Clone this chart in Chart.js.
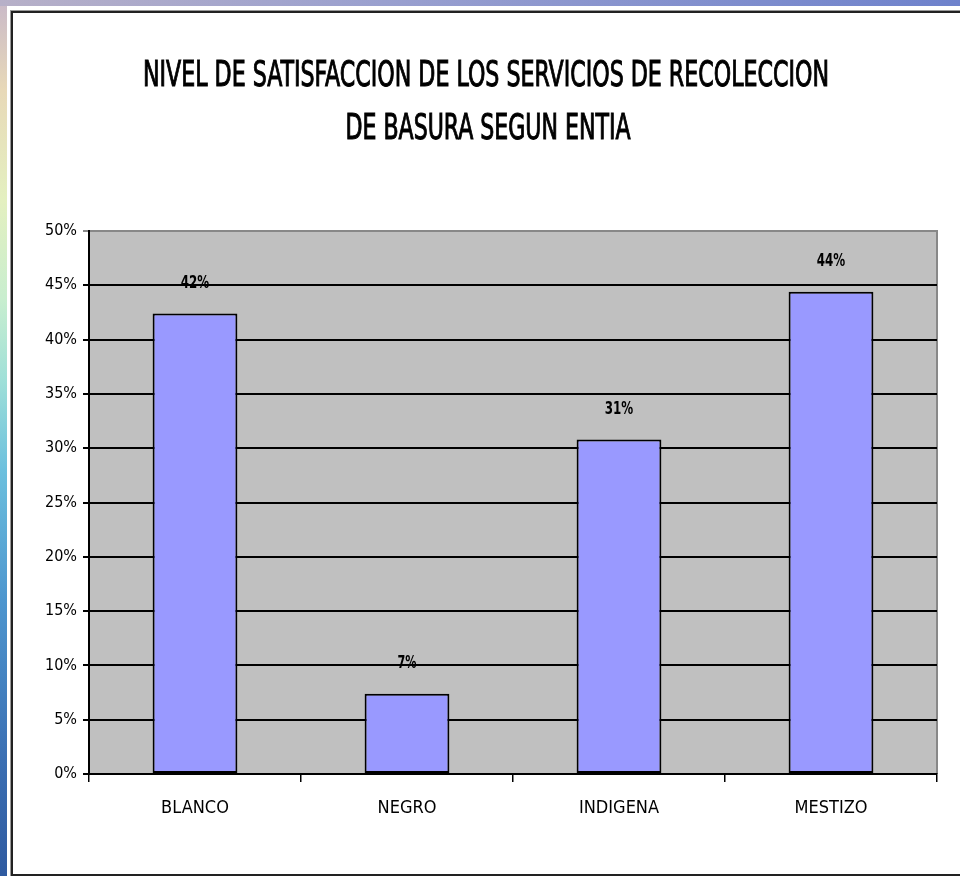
<!DOCTYPE html>
<html>
<head>
<meta charset="utf-8">
<script src="https://cdn.jsdelivr.net/npm/chart.js@4/dist/chart.umd.min.js"></script>
<style>
  html, body { margin: 0; padding: 0; }
  body {
    width: 960px; height: 876px; overflow: hidden; position: relative;
    background: linear-gradient(180deg, #c9b9c9 0px, #e8d9b8 90px, #e4f0c0 200px, #c8eecf 300px, #9fe0d8 380px, #6cc0de 470px, #4d96cf 600px, #3b6fb3 760px, #2f5aa0 876px);
  }
  #topstrip {
    position: absolute; left: 0; top: 0; width: 960px; height: 6px;
    background: linear-gradient(90deg, #b7b0c8 0%, #9aa0cf 40%, #6e82cc 100%);
  }
  #paper { position: absolute; left: 7px; top: 6px; width: 953px; height: 870px; background: #fff; }
  #frame {
    position: absolute; left: 11px; top: 11px; width: 970px; height: 861px;
    border: 2px solid #222; box-shadow: 0 0 0 1px #999;
  }
  canvas { position: absolute; left: 0; top: 0; }
</style>
</head>
<body>
<div id="topstrip"></div>
<div id="paper"></div>
<div id="frame"></div>
<canvas id="chart" width="960" height="876"></canvas>
<script>
const titleLines = ["NIVEL DE SATISFACCION DE LOS SERVICIOS DE RECOLECCION", "DE BASURA SEGUN ENTIA"];
const categories = ["BLANCO", "NEGRO", "INDIGENA", "MESTIZO"];
const satisfaction = [42.4, 7.4, 30.8, 44.4];
const valueLabels = ["42%", "7%", "31%", "44%"];
const yTicks = [0, 5, 10, 15, 20, 25, 30, 35, 40, 45, 50];

const narrow = "'Liberation Sans Narrow', 'Arial Narrow', 'DejaVu Sans Condensed', sans-serif";

// gray plot background + gray top/right border
const plotArea = {
  id: "plotArea",
  beforeDraw(chart) {
    const { ctx, chartArea: a } = chart;
    ctx.save();
    ctx.fillStyle = "#c0c0c0";
    ctx.fillRect(a.left, a.top, a.right - a.left, a.bottom - a.top);
    ctx.strokeStyle = "#888";
    ctx.lineWidth = 2;
    ctx.beginPath();
    ctx.moveTo(a.left, a.top);
    ctx.lineTo(a.right, a.top);
    ctx.lineTo(a.right, a.bottom);
    ctx.stroke();
    ctx.restore();
  },
};

// squeezed text, the original image is stretched tall
function squeezedText(ctx, text, cx, cy, width, stroke) {
  const w = ctx.measureText(text).width;
  ctx.save();
  ctx.translate(cx, cy);
  ctx.scale(width / w, 1);
  ctx.fillText(text, 0, 0);
  if (stroke) {
    ctx.strokeStyle = ctx.fillStyle;
    ctx.lineWidth = stroke;
    ctx.strokeText(text, 0, 0);
  }
  ctx.restore();
}

// two-line title
const titleText = {
  id: "titleText",
  afterDraw(chart) {
    const { ctx } = chart;
    ctx.save();
    ctx.fillStyle = "#000";
    ctx.font = "35px " + narrow;
    ctx.textAlign = "center";
    ctx.textBaseline = "middle";
    squeezedText(ctx, titleLines[0], 486, 77, 686, 1);
    squeezedText(ctx, titleLines[1], 488, 130, 285, 1);
    ctx.restore();
  },
};

// value labels above bars
const barLabels = {
  id: "barLabels",
  afterDatasetsDraw(chart) {
    const { ctx } = chart;
    const meta = chart.getDatasetMeta(0);
    ctx.save();
    ctx.fillStyle = "#000";
    ctx.font = "bold 17px " + narrow;
    ctx.textAlign = "center";
    ctx.textBaseline = "middle";
    meta.data.forEach((bar, i) => {
      squeezedText(ctx, valueLabels[i], bar.x, bar.y - 30, valueLabels[i].length * 9.5);
    });
    ctx.restore();
  },
};

new Chart(document.getElementById("chart"), {
  type: "bar",
  data: {
    labels: categories,
    datasets: [
      {
        data: satisfaction,
        backgroundColor: "#9999ff",
        borderColor: "#000",
        borderWidth: 2,
        borderSkipped: false,
        barPercentage: 0.4,
        categoryPercentage: 1,
      },
    ],
  },
  options: {
    responsive: false,
    animation: false,
    layout: { padding: { top: 231, right: 23, left: 0, bottom: 0 } },
    plugins: {
      legend: { display: false },
      tooltip: { enabled: false },
    },
    scales: {
      x: {
        afterFit(scale) { scale.height = 102; },
        grid: {
          offset: true,
          drawOnChartArea: false,
          color: "#000",
          tickLength: 8,
          lineWidth: 1.5,
        },
        border: { color: "#000", width: 2 },
        ticks: { color: "#000", font: { family: narrow, size: 18 }, padding: 16 },
      },
      y: {
        min: 0,
        max: 50,
        afterFit(scale) { scale.width = 89; },
        afterBuildTicks(scale) { scale.ticks = yTicks.map((v) => ({ value: v })); },
        grid: {
          color: (c) => (c.tick && c.tick.value === 50 ? "#888" : "#000"),
          lineWidth: 2,
          tickLength: 6,
        },
        border: { color: "#000", width: 2 },
        ticks: {
          color: "#000",
          font: { family: narrow, size: 16 },
          padding: 6,
          callback: (v) => v + "%",
        },
      },
    },
  },
  plugins: [plotArea, barLabels, titleText],
});
</script>
</body>
</html>
